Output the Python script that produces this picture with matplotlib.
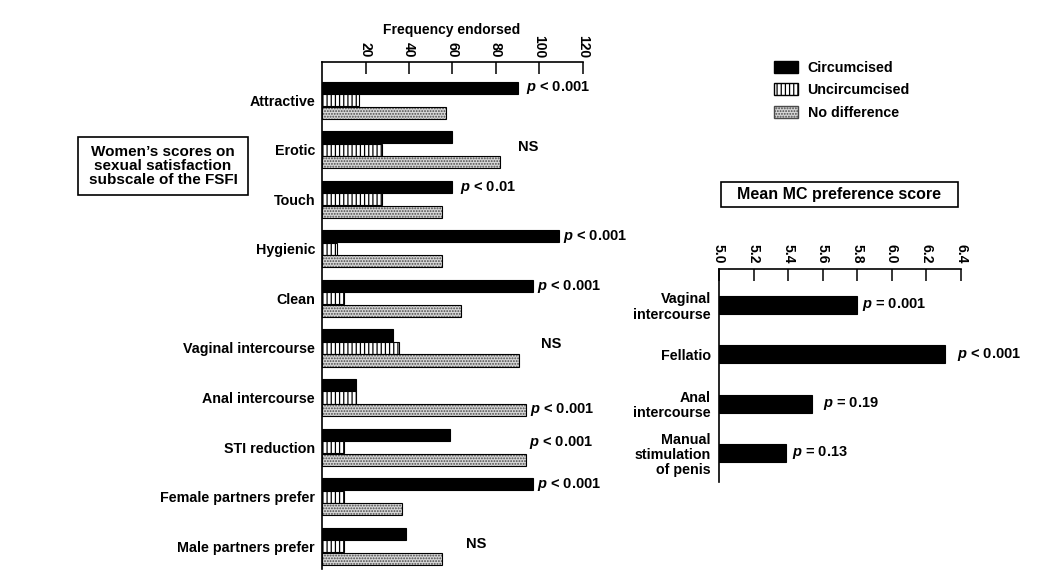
import matplotlib
matplotlib.use('Agg')
import matplotlib.pyplot as plt
from matplotlib.patches import Patch, Rectangle
import numpy as np

plt.rcParams['font.family'] = 'Liberation Sans'
plt.rcParams['font.weight'] = 'bold'
plt.rcParams['mathtext.fontset'] = 'custom'
plt.rcParams['mathtext.rm'] = 'Liberation Sans:bold'
plt.rcParams['mathtext.it'] = 'Liberation Sans:italic:bold'
plt.rcParams['mathtext.bf'] = 'Liberation Sans:bold'
plt.rcParams['hatch.linewidth'] = 0.9

# left panel: frequency endorsed
items = ['Attractive', 'Erotic', 'Touch', 'Hygienic', 'Clean', 'Vaginal intercourse',
         'Anal intercourse', 'STI reduction', 'Female partners prefer', 'Male partners prefer']
circumcised = [90, 60, 60, 109, 97, 32.5, 15.5, 59, 97, 38.5]
uncircumcised = [17, 27.5, 27.5, 7, 10, 35.5, 15.5, 10, 10, 10]
no_difference = [57, 82, 55, 55, 64, 90.5, 94, 94, 37, 55]
item_p = ['p < 0.001', 'NS', 'p < 0.01', 'p < 0.001', 'p < 0.001', 'NS',
          'p < 0.001', 'p < 0.001', 'p < 0.001', 'NS']
freq_ticks = [20, 40, 60, 80, 100, 120]

# right panel: mean MC preference score
acts = ['Vaginal\nintercourse', 'Fellatio', 'Anal\nintercourse', 'Manual\nstimulation\nof penis']
mc_score = [5.80, 6.31, 5.54, 5.39]
act_p = ['p = 0.001', 'p < 0.001', 'p = 0.19', 'p = 0.13']
score_ticks = [5.0, 5.2, 5.4, 5.6, 5.8, 6.0, 6.2, 6.4]

# where the p labels sit (x in data units, y offset in group units)
p_x = [94, 90, 63.5, 111, 99, 100.5, 95.5, 95, 99, 66]
p_dy = [-0.25, -0.05, -0.23, -0.25, -0.25, -0.08, 0.25, -0.09, -0.25, -0.04]
act_p_x = [5.83, 6.377, 5.60, 5.42]


def ptxt(s):
    return '$p$' + s[1:] if s.startswith('p') else s


fig = plt.figure(figsize=(10.44, 5.8), dpi=100)
W, H = 1044, 580

# ---- left panel
ax = fig.add_axes([322 / W, 1 - 569 / H, 261 / W, 507 / H])
y = np.arange(len(items))
off, h = 0.252, 0.245
ax.barh(y - off, circumcised, height=h, color='black', edgecolor='black', lw=0.8)
ax.barh(y, uncircumcised, height=h, color='white', edgecolor='black', hatch='||||', lw=0.8)
ax.barh(y + off, no_difference, height=h, color='#d6d6d6', edgecolor='#4a4a4a',
        hatch='......', lw=0)
ax.barh(y + off, no_difference, height=h, fill=False, edgecolor='black', lw=0.8)

for i, s in enumerate(item_p):
    ax.text(p_x[i], i + p_dy[i], ptxt(s), fontsize=10.5, va='center', ha='left',
            clip_on=False)

ax.set_xlim(0, 120)
ax.set_ylim(len(items) - 1 + 0.46, -0.77)
ax.xaxis.tick_top()
ax.set_xticks(freq_ticks)
ax.tick_params(axis='x', direction='in', length=8.5, width=1.1, pad=3,
               labelrotation=-90, labelsize=10)
ax.set_yticks(y)
ax.set_yticklabels(items, fontsize=10.3)
ax.tick_params(axis='y', length=0, pad=5)
for side in ['right', 'bottom']:
    ax.spines[side].set_visible(False)
for side in ['left', 'top']:
    ax.spines[side].set_linewidth(1.2)

fig.text(452 / W, 1 - 30 / H, 'Frequency endorsed', ha='center', va='center', fontsize=10)

# ---- right panel
ax2 = fig.add_axes([719 / W, 1 - 482 / H, 242 / W, 213 / H])
y2 = np.arange(len(acts))
ax2.barh(y2, [v - 5.0 for v in mc_score], left=5.0, height=0.365, color='black',
         edgecolor='black', lw=0.8)
for i, s in enumerate(act_p):
    ax2.text(act_p_x[i], i, ptxt(s), fontsize=10.5, va='center', ha='left', clip_on=False)
ax2.set_xlim(5.0, 6.4)
ax2.set_ylim(len(acts) - 1 + 0.59, -0.73)
ax2.xaxis.tick_top()
ax2.set_xticks(score_ticks)
ax2.set_xticklabels(['%.1f' % t for t in score_ticks])
ax2.tick_params(axis='x', direction='in', length=8.5, width=1.1, pad=4,
                labelrotation=-90, labelsize=10)
ax2.set_yticks(y2)
ax2.set_yticklabels(acts, fontsize=10.3, linespacing=1.12)
ax2.tick_params(axis='y', length=0, pad=6)
for side in ['right', 'bottom']:
    ax2.spines[side].set_visible(False)
for side in ['left', 'top']:
    ax2.spines[side].set_linewidth(1.2)

# ---- boxed captions
fig.add_artist(Rectangle((78 / W, 1 - 195 / H), 170 / W, 58 / H, transform=fig.transFigure,
                         fill=False, edgecolor='black', lw=1.2))
fig.text(163 / W, 1 - 166 / H, 'Women\u2019s scores on\nsexual satisfaction\nsubscale of the FSFI',
         ha='center', va='center', fontsize=11, linespacing=1.0)
fig.add_artist(Rectangle((721 / W, 1 - 207 / H), 237 / W, 25 / H, transform=fig.transFigure,
                         fill=False, edgecolor='black', lw=1.2))
fig.text(839 / W, 1 - 194 / H, 'Mean MC preference score', ha='center', va='center',
         fontsize=11.5)

# ---- legend
handles = [Patch(facecolor='black', edgecolor='black'),
           Patch(facecolor='white', edgecolor='black', hatch='||||'),
           Patch(facecolor='#d6d6d6', edgecolor='#4a4a4a', hatch='......')]
fig.legend(handles, ['Circumcised', 'Uncircumcised', 'No difference'],
           loc='upper left', bbox_to_anchor=(774 / W, 1 - 61 / H), frameon=False,
           fontsize=10.3, handlelength=1.65, handleheight=0.9, handletextpad=0.7,
           labelspacing=0.58, borderpad=0, borderaxespad=0)

fig.savefig('out.png', dpi=100)
